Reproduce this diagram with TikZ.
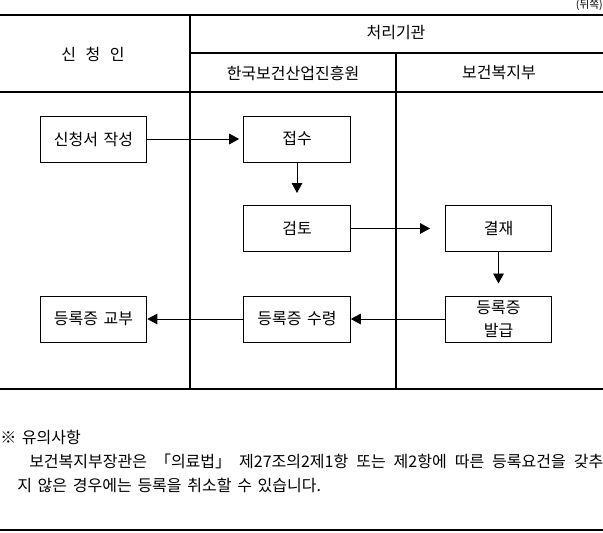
\documentclass[tikz,border=0pt]{standalone}
\usepackage{fontspec}
\setmainfont[WordSpace=1.6]{Noto Sans CJK KR}
\usetikzlibrary{arrows.meta}

\tikzset{
  stepbox/.style={draw, line width=0.75pt, inner sep=0pt, minimum width=80pt, minimum height=34.5pt, font=\fontsize{12pt}{17pt}\selectfont, align=center},
  flow/.style={line width=0.6pt, -{Triangle[length=7.5pt, width=8pt]}},
  rule/.style={line width=0.8pt},
  head/.style={font=\fontsize{12pt}{14pt}\selectfont},
  note/.style={font=\fontsize{12pt}{14pt}\selectfont, inner sep=0pt}
}

\begin{document}
\begin{tikzpicture}[x=0.75pt, y=-0.75pt]
  \useasboundingbox (0,0) rectangle (603,532);

  % table frame
  \draw[rule] (0,15) -- (603,15);
  \draw[rule] (190,53) -- (603,53);
  \draw[rule] (0,92) -- (603,92);
  \draw[rule] (190,15) -- (190,389);
  \draw[rule] (396,53) -- (396,389);
  \draw[rule] (0,389) -- (603,389);
  \draw[rule] (0,530) -- (603,530);

  \node[font=\fontsize{8pt}{10pt}\selectfont, anchor=east, inner sep=0pt] (side) at (603,5) {(뒤쪽)};

  % headers
  \node[head] (applicant) at (93,54) {신\hspace{0.6em}청\hspace{0.6em}인};
  \node[head] (office) at (396,33) {처리기관};
  \node[head] (institute) at (293,73) {한국보건산업진흥원};
  \node[head] (ministry) at (499,73) {보건복지부};

  % steps
  \node[stepbox] (apply) at (93.5,139) {신청서 작성};
  \node[stepbox] (receipt) at (297,139) {접수};
  \node[stepbox] (review) at (297,228.5) {검토};
  \node[stepbox] (approve) at (498.5,228.5) {결재};
  \node[stepbox] (issue) at (498.5,319) {등록증\\발급};
  \node[stepbox] (receive) at (297,319) {등록증 수령};
  \node[stepbox] (deliver) at (93.5,319) {등록증 교부};

  \draw[flow, shorten >=3pt] (apply) -- (receipt);
  \draw[flow, shorten >=9pt] (receipt) -- (review);
  \draw[flow, shorten >=11pt] (review) -- (approve);
  \draw[flow, shorten >=9pt] (approve) -- (issue);
  \draw[flow] (issue) -- (receive);
  \draw[flow] (receive) -- (deliver);

  % notice
  \node[note, anchor=west] (notetitle) at (0,437) {※ 유의사항};
  \node[note, anchor=west] (noteone) at (29,461) {\makebox[430.5pt][s]{보건복지부장관은 「의료법」 제27조의2제1항 또는 제2항에 따른 등록요건을 갖추}};
  \node[note, anchor=west] (notetwo) at (17,485) {지 않은 경우에는 등록을 취소할 수 있습니다.};
\end{tikzpicture}
\end{document}
